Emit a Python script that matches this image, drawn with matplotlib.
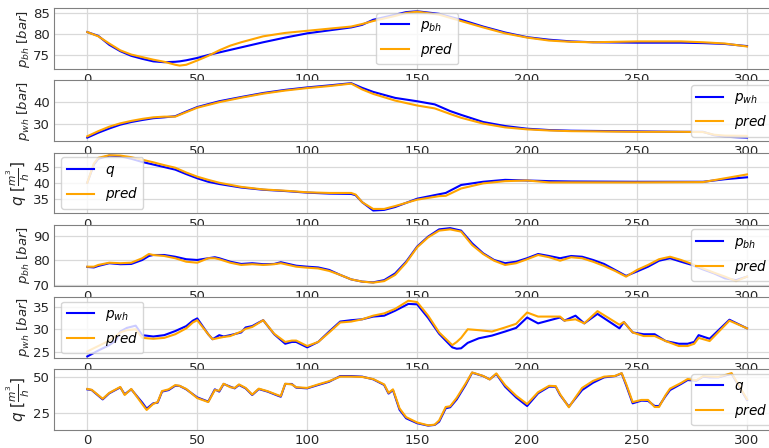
import matplotlib
matplotlib.use("Agg")
from matplotlib import pyplot as plt

# panel 1: bottom-hole pressure, smooth case
x1 = [0, 5, 10, 15, 20, 25, 30, 35, 40, 42, 45, 50, 55, 60, 65, 70, 80, 90, 100, 110, 120, 125,
      130, 140, 145, 150, 160, 170, 180, 190, 200, 210, 220, 230, 250, 270, 280, 290, 300]
pbh1 = [80.4, 79.5, 77.4, 75.9, 74.8, 74.1, 73.5, 73.3, 73.4, 73.5, 73.75, 74.3, 75.0, 75.6, 76.2,
        76.8, 78.0, 79.1, 80.1, 80.8, 81.5, 82.1, 83.3, 84.5, 85.1, 85.3, 84.7, 83.3, 81.7, 80.3,
        79.2, 78.6, 78.2, 78.0, 77.9, 77.9, 77.8, 77.6, 77.1]
pred1 = [80.4, 79.4, 77.7, 76.1, 75.1, 74.5, 73.9, 73.4, 72.7, 72.5, 72.7, 73.7, 74.8, 76.1, 77.2,
         78.0, 79.4, 80.2, 80.7, 81.2, 81.7, 82.3, 83.0, 84.2, 84.9, 85.2, 84.5, 83.0, 81.5, 80.1,
         79.1, 78.4, 78.1, 78.0, 78.2, 78.2, 78.0, 77.7, 77.0]

# panel 2: wellhead pressure, smooth case
x2 = [0, 5, 10, 15, 20, 25, 30, 35, 40, 45, 50, 60, 70, 80, 90, 100, 110, 120, 125, 130, 140, 150,
      158, 165, 170, 180, 190, 200, 210, 220, 250, 270, 280, 285, 290, 300]
pwh2 = [23.9, 26.1, 28.0, 29.7, 30.9, 31.8, 32.6, 33.0, 33.5, 35.6, 37.6, 40.2, 42.1, 43.9, 45.3,
        46.4, 47.3, 48.3, 46.2, 44.4, 41.7, 40.2, 38.8, 35.8, 34.1, 30.9, 29.1, 27.9, 27.3, 27.0,
        26.7, 26.5, 26.5, 25.0, 24.3, 23.9]
pred2 = [24.5, 26.8, 28.8, 30.3, 31.4, 32.3, 33.0, 33.3, 33.3, 35.3, 37.3, 39.8, 41.8, 43.6, 45.0,
         46.1, 47.0, 48.1, 45.5, 43.5, 40.5, 38.3, 37.0, 34.5, 32.8, 30.2, 28.5, 27.6, 27.1, 26.8,
         26.5, 26.5, 26.4, 25.2, 24.8, 24.7]

# panel 3: flow rate, smooth case
x3 = [0, 3, 5, 10, 15, 20, 25, 30, 35, 40, 45, 50, 55, 60, 70, 80, 90, 100, 110, 120, 122, 125,
      130, 135, 140, 150, 160, 163, 170, 180, 190, 200, 210, 220, 250, 280, 290, 300]
q3 = [40.2, 45.9, 47.7, 48.7, 48.5, 47.7, 46.7, 45.9, 45.1, 44.3, 42.9, 41.6, 40.5, 39.8, 38.7,
      38.0, 37.6, 37.1, 36.8, 36.7, 36.3, 34.1, 31.5, 31.7, 32.6, 35.2, 36.6, 37.0, 39.5, 40.5,
      41.1, 40.9, 40.7, 40.6, 40.5, 40.5, 41.3, 41.9]
pred3 = [40.2, 46.2, 48.0, 48.8, 48.7, 48.2, 47.4, 46.6, 45.7, 44.9, 43.4, 42.1, 41.1, 40.2, 38.9,
         38.1, 37.7, 37.2, 37.0, 37.0, 36.5, 34.1, 32.0, 32.0, 32.9, 34.9, 36.0, 36.1, 38.4, 40.0,
         40.7, 40.9, 40.3, 40.3, 40.3, 40.4, 41.6, 42.8]

# panel 4: bottom-hole pressure, varying case
x4 = [0, 3, 5, 10, 15, 20, 25, 28, 30, 35, 40, 45, 50, 55, 58, 60, 65, 70, 75, 80, 85, 88, 90, 95,
      100, 105, 110, 115, 120, 125, 130, 135, 140, 145, 150, 155, 160, 165, 170, 175, 180, 185,
      190, 195, 200, 205, 210, 215, 220, 225, 230, 235, 240, 245, 250, 255, 260, 265, 270, 275,
      280, 285, 290, 295, 300]
pbh4 = [77.4, 77.2, 77.8, 78.9, 78.5, 78.6, 80.2, 81.8, 82.2, 82.2, 81.5, 80.5, 80.2, 80.9, 81.3,
        80.9, 79.5, 78.6, 78.9, 78.5, 78.6, 79.3, 78.9, 77.9, 77.5, 77.2, 76.2, 74.2, 72.4, 71.5,
        71.2, 72.1, 74.8, 79.5, 85.6, 89.6, 92.5, 93.0, 92.0, 86.9, 82.9, 80.2, 78.9, 79.5, 80.9,
        82.6, 81.8, 80.9, 81.8, 81.5, 80.2, 78.6, 76.2, 73.8, 75.6, 77.5, 79.9, 80.9, 79.5, 78.2,
        76.4, 74.8, 72.8, 72.1, 73.5]
pred4 = [77.5, 77.5, 78.2, 79.1, 78.9, 79.1, 80.9, 82.6, 82.2, 81.8, 80.9, 79.5, 79.1, 80.9, 80.9,
         80.5, 79.1, 78.2, 78.5, 78.2, 78.5, 78.9, 78.5, 77.5, 77.1, 76.8, 75.8, 74.2, 72.4, 71.5,
         71.1, 71.7, 74.2, 79.1, 85.3, 89.3, 92.0, 92.5, 91.6, 86.2, 82.6, 79.9, 78.2, 78.9, 80.5,
         82.2, 81.3, 79.9, 81.3, 80.9, 79.5, 77.8, 75.8, 73.5, 76.2, 78.2, 80.5, 81.5, 80.2, 78.6,
         76.8, 75.1, 73.5, 71.7, 73.5]

# panel 5: wellhead pressure, varying case
x5 = [0, 5, 10, 13, 15, 18, 22, 25, 30, 35, 40, 45, 48, 50, 55, 57, 60, 62, 65, 70, 72, 75, 78, 80,
      85, 90, 93, 95, 100, 105, 110, 115, 120, 125, 130, 135, 140, 146, 150, 155, 160, 166, 168,
      170, 173, 178, 184, 190, 195, 200, 205, 215, 217, 222, 226, 232, 242, 244, 248, 253, 258,
      263, 269, 273, 276, 278, 283, 292, 300]
pwh5 = [24.0, 25.3, 26.5, 27.5, 29.5, 30.3, 30.8, 28.7, 28.4, 28.7, 29.6, 30.7, 31.9, 32.4, 28.9,
        27.8, 28.7, 28.4, 28.7, 29.3, 30.4, 30.7, 31.5, 32.0, 28.9, 26.8, 27.2, 27.2, 26.0, 27.2,
        29.5, 31.7, 32.0, 32.2, 32.8, 33.0, 34.1, 35.6, 35.5, 32.5, 29.0, 26.0, 25.7, 25.8, 27.0,
        28.0, 28.6, 29.5, 30.3, 32.6, 31.3, 32.6, 31.9, 33.0, 31.3, 33.4, 30.2, 31.6, 29.3, 28.9,
        28.9, 27.4, 26.8, 26.8, 27.2, 28.7, 27.9, 32.1, 30.2]
pred5 = [25.1, 26.3, 27.5, 28.5, 29.3, 29.8, 30.0, 28.1, 27.9, 28.1, 28.9, 30.2, 31.5, 32.0, 28.9,
         27.8, 28.1, 28.3, 28.5, 29.5, 30.1, 30.5, 31.4, 32.0, 29.0, 27.2, 27.5, 27.5, 26.3, 27.2,
         29.3, 31.5, 31.7, 32.2, 33.0, 33.5, 34.5, 36.3, 36.0, 33.0, 29.3, 26.5, 27.2, 28.1, 30.0,
         29.8, 29.5, 30.4, 31.2, 33.7, 32.8, 32.8, 31.9, 32.2, 31.3, 34.0, 31.0, 31.6, 29.3, 28.5,
         28.5, 27.4, 26.3, 26.3, 26.8, 28.1, 27.4, 31.9, 30.2]

# panel 6: flow rate, varying case
x6 = [0, 2, 7, 10, 15, 17, 20, 25, 27, 30, 32, 34, 37, 40, 42, 45, 50, 55, 58, 60, 62, 65, 67, 69,
      72, 75, 78, 82, 87, 88, 90, 93, 95, 100, 105, 110, 115, 120, 125, 130, 135, 137, 139, 142,
      145, 150, 155, 158, 160, 163, 165, 168, 172, 175, 180, 183, 186, 190, 195, 200, 205, 210,
      213, 215, 219, 222, 225, 230, 235, 240, 243, 245, 248, 252, 255, 258, 260, 263, 265, 270,
      273, 277, 280, 283, 287, 293, 300]
q6 = [41.5, 41.0, 34.4, 38.7, 42.9, 38.0, 41.5, 32.1, 27.8, 31.6,
      32.1, 39.9, 41.0, 44.1, 43.9, 41.5, 35.8, 32.8, 41.5, 39.9,
      45.3, 43.4, 42.2, 44.6, 42.2, 37.5, 41.7, 39.9, 36.8, 36.3,
      45.3, 45.3, 42.7, 42.2, 44.6, 46.9, 50.9, 50.9, 50.5, 48.6,
      44.6, 38.5, 41.0, 27.0, 21.0, 17.5, 15.8, 16.3, 18.6, 28.1,
      28.8, 34.4, 44.6, 53.3, 50.9, 48.6, 52.4, 43.4, 35.8, 29.7,
      38.7, 43.4, 43.4, 37.5, 29.2, 35.1, 41.0, 46.2, 50.0, 50.9,
      52.8, 44.6, 31.6, 33.5, 33.3, 29.7, 29.7, 36.8, 41.0, 45.3,
      48.1, 47.6, 50.5, 50.0, 50.0, 52.5, 34.0]
pred6 = [41.8, 41.2, 34.8, 39.0, 43.2, 37.5, 41.8, 31.0, 26.9, 31.2,
         32.5, 40.3, 41.5, 44.5, 44.0, 41.8, 35.3, 32.5, 41.0, 40.5,
         45.5, 43.0, 42.5, 45.0, 42.5, 37.8, 42.0, 40.2, 37.2, 36.8,
         45.5, 45.0, 43.0, 42.5, 45.0, 47.3, 50.5, 50.5, 50.3, 48.8,
         45.0, 39.0, 41.5, 28.0, 21.8, 18.0, 16.0, 16.5, 19.5, 29.0,
         29.5, 35.5, 45.5, 53.5, 51.0, 48.5, 52.8, 44.5, 37.0, 31.1,
         39.5, 44.0, 43.8, 38.0, 28.8, 35.8, 42.5, 47.5, 50.5, 51.0,
         53.0, 45.5, 32.5, 34.0, 34.0, 29.0, 29.0, 37.5, 42.0, 46.0,
         48.8, 48.0, 50.8, 50.5, 50.3, 53.0, 34.5]

ylabels = [r'$p_{bh}$ $[bar]$', r'$p_{wh}$ $[bar]$', r'$q$ $[\frac{m^3}{h}]$',
           r'$p_{bh}$ $[bar]$', r'$p_{wh}$ $[bar]$', r'$q$ $[\frac{m^3}{h}]$']
label_sizes = [9.5, 9.5, 11, 9.5, 9.5, 11]
names = [r'$p_{bh}$', r'$p_{wh}$', r'$q$', r'$p_{bh}$', r'$p_{wh}$', r'$q$']
ylims = [(71.7, 86.0), (22.3, 49.5), (30.6, 49.6), (69.9, 94.3), (23.7, 37.1), (12.7, 55.7)]
yticks = [[75, 80, 85], [30, 40], [35, 40, 45], [70, 80, 90], [25, 30, 35], [25, 50]]
legend_locs = ['center', 'center right', 'center left', 'center right', 'center left', 'center right']
xticks = [0, 50, 100, 150, 200, 250, 300]

panels = [(x1, pbh1, pred1), (x2, pwh2, pred2), (x3, q3, pred3),
          (x4, pbh4, pred4), (x5, pwh5, pred5), (x6, q6, pred6)]

plt.rcParams['font.size'] = 8.6
plt.rcParams['mathtext.fontset'] = 'dejavusans'

fig = plt.figure(figsize=(7.69, 4.48), dpi=100)

W, H = 769.0, 448.0
left, right = 54.3, 780.0
ax_h = 60.7
for i, (xs, real, pred) in enumerate(panels):
    top = 8.3 + 72.2 * i
    ax = fig.add_axes([left / W, 1 - (top + ax_h) / H, (right - left) / W, ax_h / H])
    ax.plot(xs, real, color='blue', lw=1.5, label=names[i])
    ax.plot(xs, pred, color='orange', lw=1.5, label=r'$pred$')
    ax.set_xlim(-15, 315)
    ax.set_ylim(*ylims[i])
    ax.set_xticks(xticks)
    ax.set_yticks(yticks[i])
    ax.grid(True, color='0.85', lw=0.9)
    ax.set_axisbelow(True)
    for s in ax.spines.values():
        s.set_color('0.5')
    ax.tick_params(length=0, labelsize=9.5, colors='0.15', pad=3)
    ax.set_ylabel(ylabels[i], fontsize=label_sizes[i], color='0.15', labelpad=1)
    ax.legend(loc=legend_locs[i], fontsize=9.8)

plt.savefig('out.png', dpi=100)
